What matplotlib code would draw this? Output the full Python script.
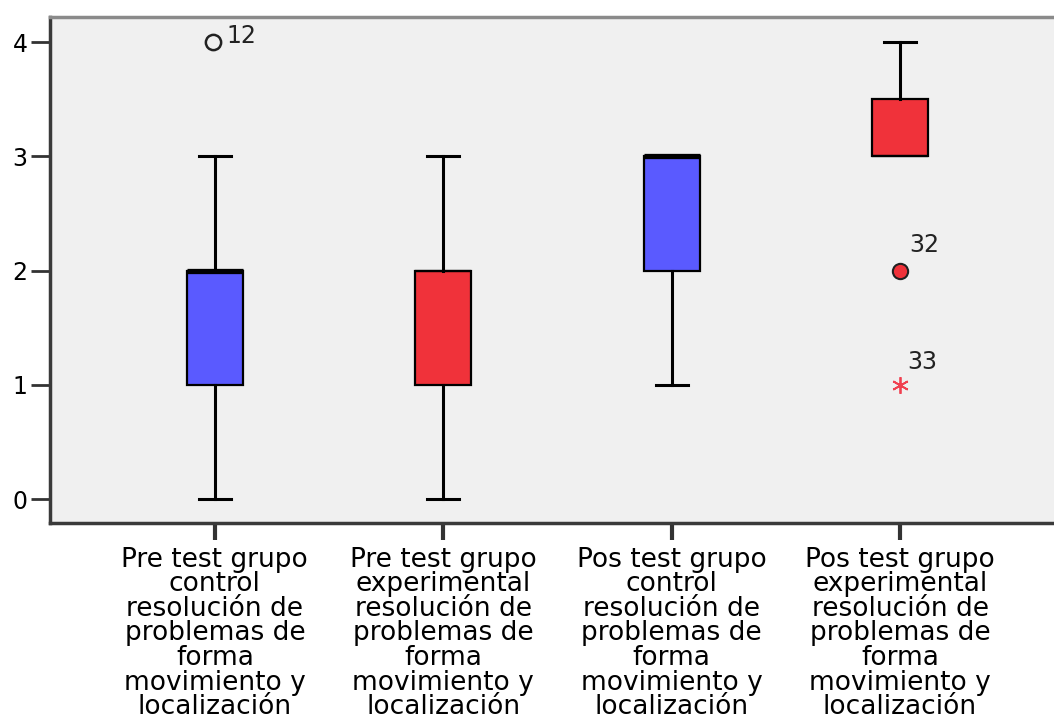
import matplotlib
matplotlib.use("Agg")
import matplotlib.pyplot as plt

# Box statistics
labels = [
    "Pre test grupo\ncontrol\nresolución de\nproblemas de\nforma\nmovimiento y\nlocalización",
    "Pre test grupo\nexperimental\nresolución de\nproblemas de\nforma\nmovimiento y\nlocalización",
    "Pos test grupo\ncontrol\nresolución de\nproblemas de\nforma\nmovimiento y\nlocalización",
    "Pos test grupo\nexperimental\nresolución de\nproblemas de\nforma\nmovimiento y\nlocalización",
]
whislo = [0, 0, 1, 3]
q1 = [1, 1, 2, 3]
med = [2, 2, 3, 3]
q3 = [2, 2, 3, 3.5]
whishi = [3, 3, 3, 4]
box_colors = ["#5a5aff", "#f0323a", "#5a5aff", "#f0323a"]
median_lw = [3.8, 1.6, 3.8, 1.6]

# outliers: (group index, value, case id, kind)
out_group = [1, 4, 4]
out_value = [4, 2, 1]
out_case = ["12", "32", "33"]
out_kind = ["mild_open", "mild_filled", "extreme"]

yticks = [0, 1, 2, 3, 4]

fig = plt.figure(figsize=(10.54, 7.25), dpi=100)
ax = fig.add_axes([0.0474, 0.2786, 0.9526, 0.698])
ax.set_facecolor("#f0f0f0")

for i in range(4):
    stats = [{"whislo": whislo[i], "q1": q1[i], "med": med[i],
              "q3": q3[i], "whishi": whishi[i], "fliers": []}]
    art = ax.bxp(stats, positions=[i + 1], widths=0.245, capwidths=0.14,
                 patch_artist=True, showfliers=False,
                 boxprops=dict(facecolor=box_colors[i], edgecolor="black", linewidth=1.6),
                 medianprops=dict(color="black", linewidth=median_lw[i], solid_capstyle="butt"),
                 whiskerprops=dict(color="black", linewidth=2.2),
                 capprops=dict(color="black", linewidth=2.2))
    # no cap where the whisker has zero length
    if whislo[i] == q1[i]:
        art["caps"][0].set_visible(False)
    if whishi[i] == q3[i]:
        art["caps"][1].set_visible(False)

for g, v, c, k in zip(out_group, out_value, out_case, out_kind):
    if k == "mild_open":
        ax.plot(g - 0.01, v, marker="o", markersize=11, markerfacecolor="none",
                markeredgecolor="#222222", markeredgewidth=1.8, linestyle="none")
        ax.text(g + 0.05, v + 0.05, c, fontsize=17, color="#222222",
                ha="left", va="center")
    elif k == "mild_filled":
        ax.plot(g, v, marker="o", markersize=11, markerfacecolor="#f0323a",
                markeredgecolor="#222222", markeredgewidth=1.5, linestyle="none")
        ax.text(g + 0.04, v + 0.22, c, fontsize=17, color="#222222",
                ha="left", va="center")
    else:
        ax.plot(g, v, marker=(6, 2, 0), markersize=12, color="#f04050",
                markeredgewidth=1.3, linestyle="none")
        ax.text(g + 0.03, v + 0.2, c, fontsize=17, color="#222222",
                ha="left", va="center")

ax.set_xlim(0.278, 4.674)
ax.set_ylim(-0.21, 4.22)
ax.set_yticks(yticks)
ax.set_yticklabels([str(t) for t in yticks], fontsize=17)
ax.set_xticks([1, 2, 3, 4])
ax.set_xticklabels(labels, fontsize=19, linespacing=0.93)

ax.tick_params(axis="y", length=14, width=2, color="#333333", pad=2)
ax.tick_params(axis="x", length=12, width=3, color="#333333", pad=5)

ax.spines["left"].set_color("#3a3a3a")
ax.spines["left"].set_linewidth(2.5)
ax.spines["bottom"].set_color("#3a3a3a")
ax.spines["bottom"].set_linewidth(2.5)
ax.spines["top"].set_color("#8a8a8a")
ax.spines["top"].set_linewidth(2.5)
ax.spines["right"].set_visible(False)

fig.savefig("out.png", dpi=100, facecolor="white")
